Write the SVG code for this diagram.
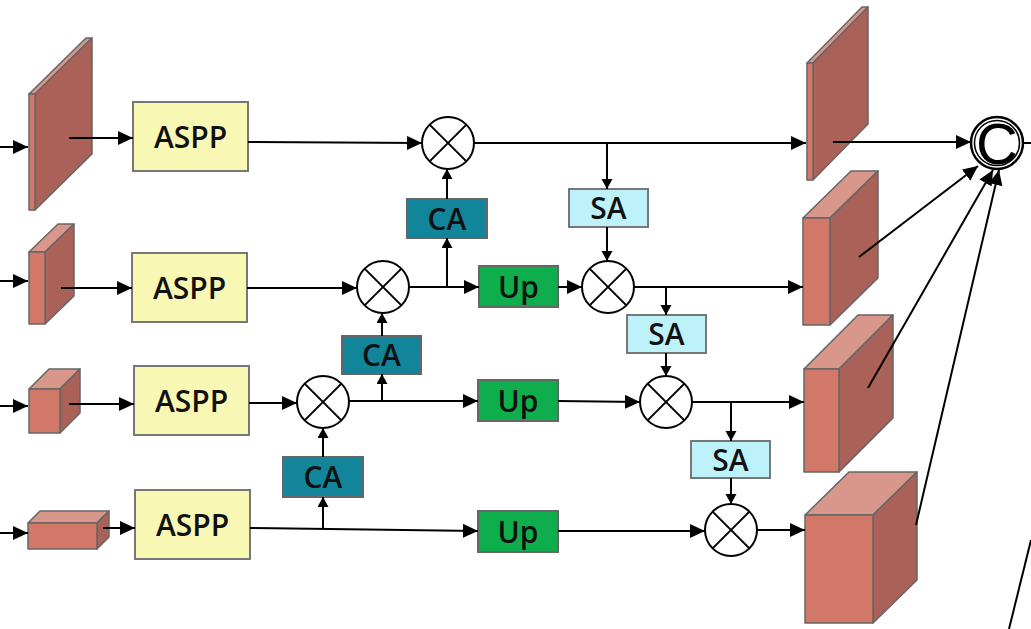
<svg xmlns="http://www.w3.org/2000/svg" width="1031" height="629" viewBox="0 0 1031 629">
<defs>
<marker id="ah" markerUnits="userSpaceOnUse" markerWidth="16" markerHeight="15" refX="15" refY="7" orient="auto"><path d="M0,0 L15,7 L0,14 z" fill="#000"/></marker>
<marker id="as" markerUnits="userSpaceOnUse" markerWidth="11" markerHeight="12" refX="10" refY="5.5" orient="auto"><path d="M0,0 L10,5.5 L0,11 z" fill="#000"/></marker>
<g id="mul"><circle r="26" fill="#fff" stroke="#000" stroke-width="2"/><path d="M-18.4,-18.4 L18.4,18.4 M18.4,-18.4 L-18.4,18.4" stroke="#000" stroke-width="2"/></g>
</defs>
<style>
.front{fill:#d27868;stroke:#666;stroke-width:1.5;stroke-linejoin:round}
.top{fill:#d9968a;stroke:#666;stroke-width:1.5;stroke-linejoin:round}
.side{fill:#aa6157;stroke:#666;stroke-width:1.5;stroke-linejoin:round}
.aspp{fill:#f8f8b4;stroke:#777;stroke-width:2}
.ca{fill:#13859a;stroke:#666;stroke-width:2}
.up{fill:#0eae4c;stroke:#666;stroke-width:2}
.sa{fill:#bdf2fb;stroke:#777;stroke-width:2}
.lbl{font-family:"Open Sans","Noto Sans",sans-serif;font-size:30px;font-weight:600;fill:#111;text-anchor:middle}
.c{fill:none;stroke:#000;stroke-width:2;marker-end:url(#ah)}
.v{fill:none;stroke:#000;stroke-width:2;marker-end:url(#as)}
.p{fill:none;stroke:#000;stroke-width:2}
</style>
<rect width="1031" height="629" fill="#fff"/>

<g id="fm1"><polygon class="top" points="29,94 35,94 92,38 86,38"/><polygon class="side" points="35,94 92,38 92,154 35,210"/><rect class="front" x="29" y="94" width="6" height="116"/></g>
<g id="fm2"><polygon class="top" points="29,252 45,252 74,224 58,224"/><polygon class="side" points="45,252 74,224 74,296 45,324"/><rect class="front" x="29" y="252" width="16" height="72"/></g>
<g id="fm3"><polygon class="top" points="29,389 60,389 80,369 49,369"/><polygon class="side" points="60,389 80,369 80,413 60,433"/><rect class="front" x="29" y="389" width="31" height="44"/></g>
<g id="fm4"><polygon class="top" points="28,523 97,523 109,511 40,511"/><polygon class="side" points="97,523 109,511 109,537 97,549"/><rect class="front" x="28" y="523" width="69" height="26"/></g>

<g id="aspp1"><rect class="aspp" x="133" y="102" width="115" height="69"/><text class="lbl" x="190.5" y="147.5">ASPP</text></g>
<g id="aspp2"><rect class="aspp" x="132" y="253" width="115" height="69"/><text class="lbl" x="189.5" y="298.5">ASPP</text></g>
<g id="aspp3"><rect class="aspp" x="134" y="366" width="115" height="69"/><text class="lbl" x="191.5" y="411.5">ASPP</text></g>
<g id="aspp4"><rect class="aspp" x="135" y="490" width="115" height="69"/><text class="lbl" x="192.5" y="535.5">ASPP</text></g>

<g id="ca1"><rect class="ca" x="407" y="199" width="80" height="39"/><text class="lbl" x="447" y="229.5">CA</text></g>
<g id="ca2"><rect class="ca" x="342" y="336" width="79" height="38"/><text class="lbl" x="381.5" y="366">CA</text></g>
<g id="ca3"><rect class="ca" x="283" y="457" width="80" height="40"/><text class="lbl" x="323" y="488">CA</text></g>

<g id="up1"><rect class="up" x="479" y="266" width="79" height="41"/><text class="lbl" x="518.5" y="297.5">Up</text></g>
<g id="up2"><rect class="up" x="478" y="380" width="80" height="41"/><text class="lbl" x="518" y="411.5">Up</text></g>
<g id="up3"><rect class="up" x="478" y="511" width="80" height="41"/><text class="lbl" x="518" y="542.5">Up</text></g>

<g id="sa1"><rect class="sa" x="569" y="189" width="79" height="38"/><text class="lbl" x="608.5" y="219">SA</text></g>
<g id="sa2"><rect class="sa" x="627" y="315" width="79" height="38"/><text class="lbl" x="666.5" y="345">SA</text></g>
<g id="sa3"><rect class="sa" x="691" y="441" width="79" height="37"/><text class="lbl" x="730.5" y="470.5">SA</text></g>

<g id="m1"><use href="#mul" x="448" y="143"/></g>
<g id="m2l"><use href="#mul" x="383" y="287"/></g>
<g id="m2r"><use href="#mul" x="608" y="287"/></g>
<g id="m3l"><use href="#mul" x="323" y="402"/></g>
<g id="m3r"><use href="#mul" x="666" y="402"/></g>
<g id="m4"><use href="#mul" x="731" y="530"/></g>

<g id="out1"><polygon class="top" points="807,63 813,63 868,7 862,7"/><polygon class="side" points="813,63 868,7 868,124 813,180"/><rect class="front" x="807" y="63" width="6" height="117"/></g>
<g id="out2"><polygon class="top" points="803,218 830,218 878,171 851,171"/><polygon class="side" points="830,218 878,171 878,278 830,325"/><rect class="front" x="803" y="218" width="27" height="107"/></g>
<g id="out3"><polygon class="top" points="804,369 839,369 893,315 858,315"/><polygon class="side" points="839,369 893,315 893,418 839,472"/><rect class="front" x="804" y="369" width="35" height="103"/></g>
<g id="out4"><polygon class="top" points="805,515 873,515 917,472 849,472"/><polygon class="side" points="873,515 917,472 917,580 873,623"/><rect class="front" x="805" y="515" width="68" height="108"/></g>

<g id="concat"><circle cx="997" cy="143" r="26" fill="#fff" stroke="#000" stroke-width="2.5"/><circle cx="997" cy="143" r="22.5" fill="none" stroke="#000" stroke-width="1.5"/><text x="997" y="164" font-family="Liberation Sans, Arial, sans-serif" font-size="58" text-anchor="middle" fill="#000">C</text></g>

<g id="connectors">
<path class="c" d="M0,147 H28"/>
<path class="c" d="M0,281 H28"/>
<path class="c" d="M0,406 H28"/>
<path class="c" d="M0,533 H28"/>
<path class="c" d="M69,138 H133"/>
<path class="c" d="M61,288 H132"/>
<path class="c" d="M69,404 H134"/>
<path class="c" d="M103,528 H135"/>
<path class="c" d="M248,142 L422,143"/>
<path class="c" d="M474,143 H806"/>
<path class="v" d="M607,143 V189"/>
<path class="v" d="M607,227 V261"/>
<path class="c" d="M247,288 H357"/>
<path class="c" d="M409,287 H479"/>
<path class="v" d="M447,287 V238"/>
<path class="v" d="M447,199 V169"/>
<path class="c" d="M558,287 H582"/>
<path class="c" d="M634,287 H803"/>
<path class="v" d="M666,287 V315"/>
<path class="v" d="M666,353 V376"/>
<path class="c" d="M249,403 H297"/>
<path class="c" d="M349,401 H478"/>
<path class="v" d="M382,401 V374"/>
<path class="v" d="M382,336 V313"/>
<path class="c" d="M558,401 L640,402"/>
<path class="c" d="M692,402 H804"/>
<path class="v" d="M731,402 V441"/>
<path class="v" d="M731,478 V504"/>
<path class="c" d="M250,528 L478,531"/>
<path class="v" d="M323,529 V497"/>
<path class="v" d="M323,457 V428"/>
<path class="c" d="M558,531 H705"/>
<path class="c" d="M757,530 H805"/>
<path class="c" d="M833,142 H971"/>
<path class="c" d="M859,257 L978,166"/>
<path class="c" d="M868,388 L993,170"/>
<path class="c" d="M916,525 L999,170"/>
<path class="p" d="M1023,143 H1031"/>
<path class="p" d="M1009,629 L1031,540"/>
</g>
</svg>
